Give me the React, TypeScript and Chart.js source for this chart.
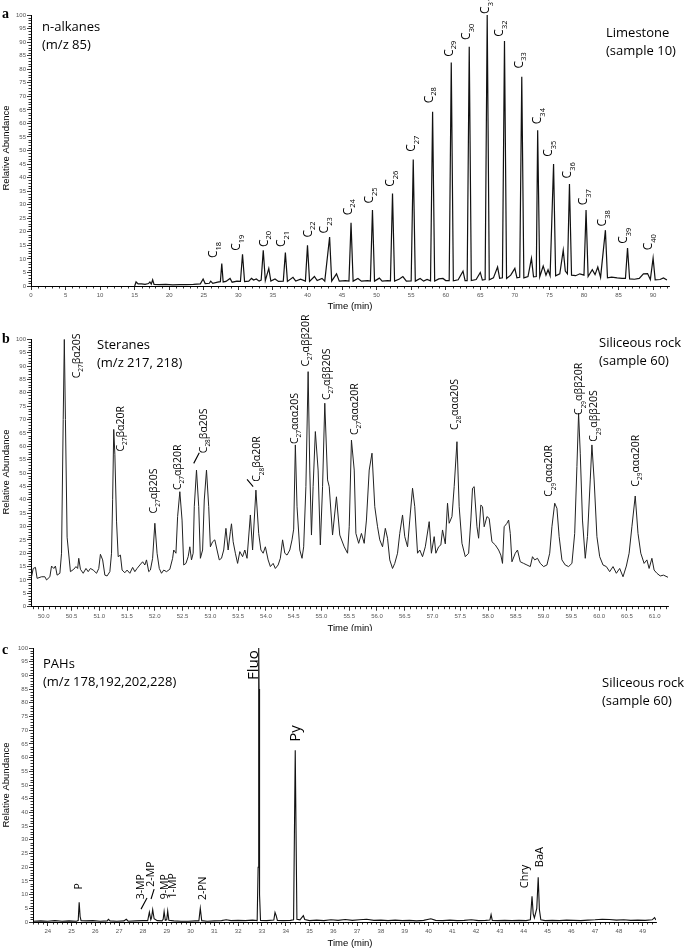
import React, { useEffect, useRef } from "react";
import { Chart, registerables } from "chart.js";
Chart.register(...registerables);

// ---------------- Panel a : n-alkanes (m/z 85), Limestone ----------------
const alkTime = [
  15.0, 15.2, 15.5, 16.0, 16.5, 17.0, 17.2, 17.4, 17.6, 17.8, 18.5, 19.5, 20.5, 21.5, 22.5, 23.5, 24.5, 24.9, 25.2, 25.8,
  26.0, 26.3, 27.0, 27.4, 27.6, 27.8, 28.2, 28.8, 29.1, 29.8, 30.3, 30.6, 30.9, 31.5, 31.9, 32.2, 32.6, 33.0, 33.3, 33.6,
  33.9, 34.4, 34.7, 35.3, 35.8, 36.5, 36.8, 37.1, 37.9, 38.3, 39.0, 39.7, 40.0, 40.3, 41.0, 41.4, 42.1, 42.5, 43.2, 43.5,
  44.2, 44.6, 45.5, 46.0, 46.3, 46.6, 47.3, 47.8, 48.7, 49.1, 49.4, 49.7, 50.4, 50.8, 51.6, 52.0, 52.3, 52.6, 53.3, 53.8,
  54.3, 55.0, 55.3, 55.6, 56.3, 56.8, 57.3, 57.8, 58.1, 58.4, 59.0, 59.6, 60.0, 60.5, 60.8, 61.1, 61.8, 62.5, 62.8, 63.1,
  63.4, 63.7, 64.4, 65.0, 65.3, 65.7, 66.0, 66.3, 66.9, 67.5, 67.8, 68.2, 68.5, 68.8, 69.4, 70.0, 70.3, 70.7, 71.0, 71.3,
  71.9, 72.4, 72.7, 73.1, 73.3, 73.6, 74.1, 74.5, 74.8, 75.1, 75.6, 75.9, 76.5, 77.0, 77.3, 77.6, 77.9, 78.2, 78.8, 79.4,
  80.0, 80.3, 80.6, 81.2, 81.6, 82.0, 82.4, 83.1, 83.4, 84.0, 84.8, 85.5, 86.0, 86.3, 86.6, 87.3, 88.0, 88.6, 89.2, 89.6,
  90.0, 90.3, 91.0, 91.5, 92.0,
];
const alkAbund = [
  0.0, 1.5, 0.8, 0.8, 0.6, 0.9, 1.5, 0.7, 2.3, 0.6, 0.5, 0.6, 0.4, 0.5, 0.5, 0.6, 0.8, 2.6, 0.9, 1.0,
  1.8, 1.0, 1.4, 1.6, 8.3, 1.5, 1.7, 2.8, 1.4, 1.8, 1.7, 11.7, 1.6, 1.8, 2.8, 2.2, 2.6, 1.8, 2.2, 13.2,
  2.0, 6.5, 1.8, 2.6, 1.7, 1.8, 12.3, 1.7, 3.2, 1.8, 2.5, 1.8, 15.0, 1.7, 3.5, 2.0, 2.8, 1.8, 18.1, 1.8,
  4.5, 1.8, 2.0, 1.8, 23.3, 1.8, 2.8, 1.8, 2.0, 1.8, 28.0, 1.8, 2.9, 1.8, 2.0, 1.9, 34.1, 1.8, 2.6, 3.5,
  1.8, 1.9, 46.7, 1.8, 2.8, 1.8, 2.4, 1.9, 64.3, 1.8, 2.6, 2.8, 2.0, 2.0, 82.5, 1.9, 2.3, 5.5, 2.0, 2.0,
  88.3, 2.0, 2.4, 5.0, 2.2, 2.4, 100.0, 2.3, 3.0, 7.0, 2.8, 3.0, 90.4, 2.8, 4.0, 6.5, 3.0, 3.2, 77.2, 3.0,
  3.5, 10.2, 3.4, 3.5, 57.5, 3.4, 7.4, 4.0, 6.0, 3.8, 45.0, 3.8, 4.5, 13.2, 5.5, 4.5, 37.6, 4.0, 3.8, 4.5,
  4.0, 28.0, 3.5, 6.0, 4.2, 7.0, 3.2, 20.6, 3.0, 3.3, 3.0, 2.8, 2.8, 14.0, 2.6, 2.5, 2.8, 4.5, 4.6, 2.4,
  10.3, 2.3, 2.4, 3.0, 2.2,
];
const alkLabelText = [
  "C_{18}", "C_{19}", "C_{20}", "C_{21}", "C_{22}", "C_{23}", "C_{24}", "C_{25}", "C_{26}", "C_{27}", "C_{28}", "C_{29}",
  "C_{30}", "C_{31}", "C_{32}", "C_{33}", "C_{34}", "C_{35}", "C_{36}", "C_{37}", "C_{38}", "C_{39}", "C_{40}",
];
const alkLabelTime = [
  26.95, 30.24, 34.25, 36.76, 40.62, 43.03, 46.41, 49.54, 52.58, 55.57, 58.13, 61.03,
  63.53, 66.33, 68.35, 71.16, 73.81, 75.4, 78.15, 80.46, 83.21, 86.25, 89.83,
];
const alkLabelAbund = [
  10.3, 13.0, 14.4, 14.4, 17.9, 19.4, 26.1, 30.4, 36.6, 49.5, 67.4, 84.6,
  90.8, 100.4, 92.0, 80.3, 59.7, 47.7, 39.7, 29.8, 22.0, 15.6, 13.2,
];

// ---------------- Panel b : Steranes (m/z 217, 218), Siliceous rock ----------------
const sterTime = [
  49.78, 49.81, 49.85, 49.88, 49.96, 50.02, 50.05, 50.11, 50.14, 50.18, 50.21, 50.24, 50.29, 50.32, 50.35, 50.37, 50.39, 50.42, 50.48, 50.54,
  50.58, 50.61, 50.63, 50.66, 50.71, 50.76, 50.80, 50.84, 50.89, 50.95, 50.99, 51.02, 51.06, 51.10, 51.14, 51.19, 51.22, 51.24, 51.26, 51.28,
  51.31, 51.34, 51.38, 51.41, 51.46, 51.50, 51.55, 51.60, 51.64, 51.68, 51.73, 51.78, 51.82, 51.85, 51.89, 51.92, 51.96, 52.00, 52.04, 52.08,
  52.12, 52.16, 52.21, 52.27, 52.32, 52.34, 52.38, 52.41, 52.45, 52.49, 52.52, 52.56, 52.60, 52.63, 52.66, 52.69, 52.71, 52.75, 52.79, 52.82,
  52.86, 52.89, 52.93, 52.97, 53.00, 53.04, 53.08, 53.12, 53.16, 53.20, 53.24, 53.28, 53.32, 53.36, 53.38, 53.41, 53.45, 53.49, 53.53, 53.58,
  53.62, 53.66, 53.72, 53.76, 53.82, 53.87, 53.91, 53.95, 53.99, 54.04, 54.08, 54.13, 54.17, 54.22, 54.26, 54.30, 54.34, 54.38, 54.43, 54.47,
  54.50, 54.53, 54.56, 54.61, 54.65, 54.68, 54.72, 54.76, 54.79, 54.82, 54.85, 54.89, 54.94, 54.98, 55.02, 55.06, 55.11, 55.14, 55.20, 55.27,
  55.33, 55.41, 55.47, 55.50, 55.54, 55.59, 55.62, 55.67, 55.72, 55.77, 55.81, 55.86, 55.91, 55.96, 56.01, 56.05, 56.10, 56.15, 56.19, 56.23,
  56.28, 56.32, 56.37, 56.41, 56.46, 56.50, 56.55, 56.59, 56.64, 56.68, 56.73, 56.77, 56.82, 56.87, 56.94, 56.98, 57.03, 57.06, 57.11, 57.15,
  57.18, 57.23, 57.27, 57.30, 57.35, 57.39, 57.44, 57.48, 57.53, 57.59, 57.65, 57.69, 57.72, 57.75, 57.80, 57.83, 57.87, 57.90, 57.93, 57.98,
  58.02, 58.07, 58.13, 58.19, 58.23, 58.26, 58.29, 58.34, 58.37, 58.40, 58.43, 58.49, 58.53, 58.58, 58.64, 58.70, 58.76, 58.80, 58.84, 58.89,
  58.94, 59.00, 59.06, 59.11, 59.15, 59.20, 59.24, 59.28, 59.33, 59.39, 59.45, 59.51, 59.56, 59.60, 59.63, 59.66, 59.70, 59.75, 59.79, 59.84,
  59.87, 59.91, 59.96, 60.01, 60.07, 60.13, 60.19, 60.25, 60.31, 60.37, 60.43, 60.49, 60.54, 60.59, 60.65, 60.70, 60.75, 60.81, 60.86, 60.90,
  60.95, 60.99, 61.04, 61.10, 61.16, 61.24,
];
const sterAbund = [
  11.2, 14.3, 14.7, 10.6, 11.2, 11.2, 10.0, 11.2, 15.2, 14.3, 15.2, 11.8, 12.5, 20.0, 70.0, 100.0, 70.0, 26.0, 13.1, 14.0,
  15.0, 14.3, 18.1, 14.0, 12.5, 14.3, 13.1, 14.3, 13.7, 12.5, 14.3, 19.6, 17.5, 11.8, 11.5, 13.1, 20.0, 40.0, 66.3, 57.0,
  32.0, 18.7, 19.3, 13.7, 12.7, 13.7, 12.5, 14.7, 13.1, 14.3, 15.6, 16.8, 15.6, 17.5, 13.1, 13.7, 18.1, 31.2, 20.0, 14.3,
  12.5, 13.7, 13.1, 14.0, 18.1, 21.2, 20.0, 33.7, 43.0, 32.4, 15.6, 16.2, 18.7, 22.4, 17.5, 20.0, 37.4, 51.1, 37.4, 18.1,
  21.2, 39.9, 51.1, 37.4, 22.4, 24.3, 25.0, 21.2, 17.5, 18.1, 21.2, 29.3, 21.2, 28.0, 31.0, 24.3, 20.0, 16.2, 20.6, 18.7,
  21.2, 18.1, 34.3, 21.2, 43.6, 27.4, 21.2, 20.0, 22.4, 17.5, 15.0, 16.2, 14.3, 15.6, 18.1, 25.0, 20.0, 19.3, 21.2, 25.0,
  29.0, 60.5, 37.4, 21.2, 18.1, 22.4, 44.9, 87.9, 51.1, 26.8, 44.9, 65.5, 51.1, 23.1, 44.9, 76.1, 47.4, 44.9, 26.8, 41.1,
  26.8, 22.4, 20.0, 29.9, 62.3, 51.1, 27.4, 23.7, 27.4, 23.7, 32.4, 51.1, 57.4, 37.4, 29.9, 25.0, 22.4, 29.3, 25.6, 17.5,
  14.3, 16.2, 20.0, 27.4, 34.3, 26.2, 22.4, 32.4, 44.3, 37.4, 20.0, 21.2, 18.7, 22.4, 31.8, 20.0, 26.2, 20.0, 22.4, 23.1,
  28.7, 23.5, 38.7, 31.2, 33.7, 44.9, 61.7, 37.4, 23.7, 18.7, 20.0, 32.4, 44.3, 44.9, 29.9, 25.6, 38.0, 37.4, 29.9, 33.7,
  33.0, 24.3, 23.1, 21.2, 19.3, 16.2, 29.9, 31.2, 32.4, 27.4, 16.8, 20.0, 21.2, 16.8, 16.2, 15.6, 15.0, 18.7, 17.5, 18.1,
  16.2, 15.0, 15.6, 20.0, 29.9, 38.7, 36.8, 26.2, 17.5, 15.6, 15.0, 16.2, 27.4, 52.4, 72.3, 57.4, 32.4, 18.1, 26.2, 47.4,
  60.5, 47.4, 26.2, 18.7, 15.6, 15.0, 13.1, 15.0, 12.5, 14.3, 11.2, 15.2, 20.0, 29.9, 41.4, 27.4, 20.0, 16.2, 17.5, 14.3,
  18.1, 13.7, 12.5, 11.5, 11.8, 11.0,
];
const sterLabelText = [
  "C_{27}βα20S", "C_{27}βα20R", "C_{27}αβ20S", "C_{27}αβ20R", "C_{28}βα20S", "C_{28}βα20R", "C_{27}ααα20S", "C_{27}αββ20R",
  "C_{27}αββ20S", "C_{27}ααα20R", "C_{28}ααα20S", "C_{29}ααα20R", "C_{29}αββ20R", "C_{29}αββ20S", "C_{29}ααα20R",
];
const sterLabelTime = [50.65, 51.44, 52.03, 52.47, 52.94, 53.9, 54.58, 54.78, 55.15, 55.65, 57.46, 59.16, 59.7, 59.97, 60.72];
const sterLabelAbund = [85.4, 58.0, 34.9, 43.6, 57.4, 46.7, 60.8, 89.8, 77.3, 64.2, 66.1, 41.1, 71.7, 61.7, 44.9];
// leader strokes: [time1, abund1, time2, abund2]
const sterLeaders = [
  [52.8, 57.6, 52.7, 53.6],
  [53.66, 47.6, 53.77, 44.9],
];

// ---------------- Panel c : PAHs (m/z 178,192,202,228), Siliceous rock ----------------
const pahTime = [
  23.4, 23.7, 24.0, 24.3, 24.6, 24.9, 25.2, 25.28, 25.32, 25.36, 25.4, 25.6, 25.9, 26.2, 26.5, 26.55, 26.62, 26.9, 27.2, 27.3,
  27.38, 27.7, 28.0, 28.2, 28.27, 28.33, 28.36, 28.41, 28.47, 28.6, 28.8, 28.85, 28.89, 28.94, 29.0, 29.04, 29.09, 29.3, 29.6, 29.9,
  30.2, 30.35, 30.41, 30.47, 30.7, 31.0, 31.3, 31.5, 31.7, 32.0, 32.3, 32.6, 32.8, 32.84, 32.86, 32.87, 32.88, 32.9, 32.94, 33.2,
  33.5, 33.55, 33.6, 33.65, 33.9, 34.2, 34.33, 34.4, 34.47, 34.6, 34.74, 34.8, 35.0, 35.3, 35.6, 35.9, 36.2, 36.5, 36.8, 37.1,
  37.4, 37.7, 38.0, 38.3, 38.6, 38.9, 39.2, 39.5, 39.8, 40.1, 40.3, 40.6, 40.9, 41.2, 41.5, 41.8, 42.1, 42.4, 42.58, 42.63,
  42.68, 42.9, 43.2, 43.5, 43.8, 44.1, 44.28, 44.35, 44.4, 44.45, 44.55, 44.61, 44.66, 44.72, 44.9, 45.2, 45.5, 45.8, 46.1, 46.4,
  46.7, 47.0, 47.3, 47.6, 47.9, 48.2, 48.5, 48.8, 49.1, 49.4, 49.5, 49.56,
];
const pahAbund = [
  0.3, 0.4, 0.3, 0.5, 0.3, 0.4, 0.3, 0.5, 7.2, 2.0, 0.5, 0.4, 0.5, 0.3, 0.4, 1.0, 0.4, 0.3, 0.4, 1.0,
  0.3, 0.4, 0.5, 0.5, 3.6, 0.8, 1.5, 4.5, 1.2, 0.5, 0.4, 1.0, 3.8, 0.6, 0.8, 4.0, 0.6, 0.4, 0.3, 0.3,
  0.4, 0.4, 5.0, 0.5, 0.3, 0.4, 0.5, 0.8, 0.5, 0.6, 0.5, 0.7, 0.5, 20.0, 85.0, 100.0, 85.0, 10.0, 0.6, 0.5,
  0.7, 3.5, 2.3, 0.6, 0.5, 0.6, 0.8, 62.7, 1.0, 0.8, 2.3, 0.9, 0.5, 0.7, 0.5, 0.8, 0.6, 0.9, 0.6, 0.8,
  1.0, 0.6, 0.7, 0.5, 0.7, 0.5, 0.6, 0.4, 0.6, 1.2, 0.6, 0.5, 0.7, 0.5, 0.6, 0.8, 0.5, 0.6, 0.7, 2.7,
  0.6, 0.5, 0.6, 0.5, 0.6, 0.5, 0.8, 9.4, 3.0, 1.5, 5.0, 16.3, 4.5, 0.8, 0.5, 0.6, 0.5, 0.7, 0.6, 0.5,
  0.7, 0.8, 1.0, 0.9, 0.7, 0.8, 0.6, 0.7, 0.6, 0.8, 1.6, 0.7,
];
const pahLabelText = ["P", "3-MP", "2-MP", "9-MP", "1-MP", "2-PN", "Fluo", "Py", "Chry", "BaA"];
const pahLabelTime = [25.43, 28.05, 28.47, 29.04, 29.39, 30.64, 32.85, 34.6, 44.19, 44.82];
const pahLabelAbund = [11.9, 8.3, 12.9, 8.3, 8.6, 8.0, 88.3, 65.8, 12.3, 20.0];
const pahLabelSize = [10.5, 10.5, 10.5, 10.5, 10.5, 10.5, 15, 15, 11, 11];
const pahLeaders = [
  [27.92, 4.7, 28.17, 8.8],
  [28.34, 8.4, 28.47, 12.0],
];

// ---------------- drawing helpers ----------------
const LABEL_FONT = "'Open Sans', 'Noto Sans', sans-serif";
const AXIS_FONT = "'Liberation Sans', Arial, sans-serif";

function parseParts(s: string): [string, boolean][] {
  const parts: [string, boolean][] = [];
  const re = /_\{([^}]*)\}/g;
  let last = 0;
  let m: RegExpExecArray | null;
  while ((m = re.exec(s))) {
    if (m.index > last) parts.push([s.slice(last, m.index), false]);
    parts.push([m[1], true]);
    last = re.lastIndex;
  }
  if (last < s.length) parts.push([s.slice(last), false]);
  return parts;
}

function drawRotated(ctx: CanvasRenderingContext2D, x: number, y: number, s: string, size: number) {
  const sub = Math.round(size * 0.62 * 2) / 2;
  ctx.save();
  ctx.translate(x, y);
  ctx.rotate(-Math.PI / 2);
  ctx.textAlign = "left";
  ctx.textBaseline = "alphabetic";
  ctx.fillStyle = "#000";
  let cx = 0;
  for (const [txt, isSub] of parseParts(s)) {
    ctx.font = `${isSub ? sub : size}px ${LABEL_FONT}`;
    ctx.fillText(txt, cx, isSub ? size * 0.3 : 0);
    cx += ctx.measureText(txt).width;
  }
  ctx.restore();
}

type TextItem = { text: string; x: number; y: number; font: string; rotate?: boolean; align?: CanvasTextAlign };

type Panel = {
  top: number;
  height: number;
  left: number;
  right: number;
  plotTop: number;
  plotBottom: number;
  times: number[];
  values: number[];
  xMin: number;
  xMax: number;
  xStep: number;
  xMinor: number;
  xDecimals: number;
  lineWidth: number;
  lineColor: string;
  labelText: string[];
  labelTime: number[];
  labelAbund: number[];
  labelSize: number[];
  leaders: number[][];
  texts: TextItem[];
};

function titleTexts(letter: string, ly: number, t1: string, t2: string, tx: number, ty1: number, ty2: number,
  s1: string, s2: string, sx: number, sy1: number, sy2: number, yMid: number, timeY: number): TextItem[] {
  const f = `13px ${LABEL_FONT}`;
  return [
    { text: letter, x: 2, y: ly, font: `bold 14px 'Liberation Serif', serif` },
    { text: t1, x: tx, y: ty1, font: f },
    { text: t2, x: tx, y: ty2, font: f },
    { text: s1, x: sx, y: sy1, font: f },
    { text: s2, x: sx, y: sy2, font: f },
    { text: "Relative Abundance", x: 9, y: yMid, font: `9.5px ${AXIS_FONT}`, rotate: true },
    { text: "Time (min)", x: 350, y: timeY, font: `9.5px ${AXIS_FONT}`, align: "center" },
  ];
}

const panels: Panel[] = [
  {
    top: 0, height: 313, left: 31, right: 669, plotTop: 15, plotBottom: 286,
    times: alkTime, values: alkAbund, xMin: 0, xMax: 92.3, xStep: 5, xMinor: 1, xDecimals: 0,
    lineWidth: 1.2, lineColor: "#111",
    labelText: alkLabelText, labelTime: alkLabelTime, labelAbund: alkLabelAbund,
    labelSize: alkLabelText.map(() => 12), leaders: [],
    texts: titleTexts("a", 18, "n-alkanes", "(m/z 85)", 42, 30.5, 48.5, "Limestone", "(sample 10)", 606, 36.5, 55, 148, 309),
  },
  {
    top: 313, height: 318, left: 31, right: 668, plotTop: 339.3, plotBottom: 606.7,
    times: sterTime, values: sterAbund, xMin: 49.77, xMax: 61.24, xStep: 0.5, xMinor: 0.1, xDecimals: 1,
    lineWidth: 1, lineColor: "#222",
    labelText: sterLabelText, labelTime: sterLabelTime, labelAbund: sterLabelAbund,
    labelSize: sterLabelText.map(() => 10.5), leaders: sterLeaders,
    texts: titleTexts("b", 343, "Steranes", "(m/z 217, 218)", 97, 349.3, 366.7, "Siliceous rock", "(sample 60)", 599, 347.3, 365.3, 472, 631),
  },
  {
    top: 631, height: 320, left: 33, right: 656, plotTop: 648, plotBottom: 922,
    times: pahTime, values: pahAbund, xMin: 23.38, xMax: 49.56, xStep: 1, xMinor: 0.2, xDecimals: 0,
    lineWidth: 1.1, lineColor: "#111",
    labelText: pahLabelText, labelTime: pahLabelTime, labelAbund: pahLabelAbund,
    labelSize: pahLabelSize, leaders: pahLeaders,
    texts: titleTexts("c", 654, "PAHs", "(m/z 178,192,202,228)", 43, 667.7, 686, "Siliceous rock", "(sample 60)", 602, 686.7, 705, 785, 946),
  },
];

function makeChart(canvas: HTMLCanvasElement, p: Panel) {
  const W = 685;
  const annot = {
    id: "annot",
    afterDraw(chart: any) {
      const ctx: CanvasRenderingContext2D = chart.ctx;
      const xs = chart.scales.x;
      const ys = chart.scales.y;
      const area = chart.chartArea;
      ctx.save();
      // minor ticks
      ctx.strokeStyle = "#000";
      ctx.lineWidth = 0.8;
      ctx.beginPath();
      const k0 = Math.ceil(p.xMin / p.xMinor - 1e-9);
      const k1 = Math.floor(p.xMax / p.xMinor + 1e-9);
      for (let k = k0; k <= k1; k++) {
        const v = k * p.xMinor;
        const r = v / p.xStep;
        if (Math.abs(r - Math.round(r)) < 1e-6) continue;
        const px = Math.round(xs.getPixelForValue(v)) + 0.5;
        ctx.moveTo(px, area.bottom);
        ctx.lineTo(px, area.bottom + 2.5);
      }
      for (let k = 0; k <= 100; k++) {
        if (k % 5 === 0) continue;
        const py = Math.round(ys.getPixelForValue(k)) + 0.5;
        ctx.moveTo(area.left, py);
        ctx.lineTo(area.left - 2.5, py);
      }
      ctx.stroke();
      // leader strokes
      ctx.lineWidth = 1.1;
      ctx.beginPath();
      for (const [t1, v1, t2, v2] of p.leaders) {
        ctx.moveTo(xs.getPixelForValue(t1), ys.getPixelForValue(v1));
        ctx.lineTo(xs.getPixelForValue(t2), ys.getPixelForValue(v2));
      }
      ctx.stroke();
      // peak labels
      p.labelText.forEach((s, i) => {
        drawRotated(ctx, xs.getPixelForValue(p.labelTime[i]), ys.getPixelForValue(p.labelAbund[i]), s, p.labelSize[i]);
      });
      // titles and axis titles
      for (const t of p.texts) {
        ctx.font = t.font;
        ctx.fillStyle = "#000";
        if (t.rotate) {
          ctx.save();
          ctx.translate(t.x, t.y - p.top);
          ctx.rotate(-Math.PI / 2);
          ctx.textAlign = "center";
          ctx.textBaseline = "alphabetic";
          ctx.fillText(t.text, 0, 0);
          ctx.restore();
        } else {
          ctx.textAlign = t.align || "left";
          ctx.textBaseline = "alphabetic";
          ctx.fillText(t.text, t.x, t.y - p.top);
        }
      }
      ctx.restore();
    },
  };
  const tickFont = { size: 6, family: AXIS_FONT };
  return new Chart(canvas, {
    type: "line",
    data: {
      datasets: [
        {
          data: p.times.map((t, i) => ({ x: t, y: p.values[i] })),
          borderColor: p.lineColor,
          borderWidth: p.lineWidth,
          pointRadius: 0,
          fill: false,
          tension: 0,
        },
      ],
    },
    options: {
      responsive: false,
      maintainAspectRatio: false,
      animation: false,
      events: [],
      layout: { padding: { left: 0, right: W - p.right, top: p.plotTop - p.top, bottom: 0 } },
      plugins: { legend: { display: false }, tooltip: { enabled: false }, title: { display: false } },
      scales: {
        x: {
          type: "linear",
          min: p.xMin,
          max: p.xMax,
          afterFit: (s: any) => {
            s.height = p.top + p.height - p.plotBottom;
          },
          border: { display: true, color: "#000", width: 1 },
          grid: { drawOnChartArea: false, drawTicks: true, tickLength: 4, color: "#000", lineWidth: 0.8 },
          ticks: {
            stepSize: p.xStep,
            includeBounds: false,
            autoSkip: false,
            maxRotation: 0,
            padding: 2,
            color: "#555",
            font: tickFont,
            callback: (v: any) => Number(v).toFixed(p.xDecimals),
          },
        },
        y: {
          type: "linear",
          min: 0,
          max: 100,
          afterFit: (s: any) => {
            s.width = p.left;
          },
          border: { display: true, color: "#000", width: 1 },
          grid: { drawOnChartArea: false, drawTicks: true, tickLength: 4, color: "#000", lineWidth: 0.8 },
          ticks: { stepSize: 5, autoSkip: false, padding: 1, color: "#555", font: tickFont },
        },
      },
    } as any,
    plugins: [annot],
  });
}

function PanelCanvas({ p }: { p: Panel }) {
  const ref = useRef<HTMLCanvasElement | null>(null);
  useEffect(() => {
    if (!ref.current) return;
    const chart = makeChart(ref.current, p);
    return () => chart.destroy();
  }, [p]);
  return (
    <canvas
      ref={ref}
      width={685}
      height={p.height}
      style={{ position: "absolute", left: 0, top: p.top, width: 685, height: p.height }}
    />
  );
}

export default function App() {
  return (
    <div style={{ position: "absolute", left: 0, top: 0, width: 685, height: 951, background: "#fff", overflow: "hidden" }}>
      {panels.map((p, i) => (
        <PanelCanvas key={i} p={p} />
      ))}
    </div>
  );
}
